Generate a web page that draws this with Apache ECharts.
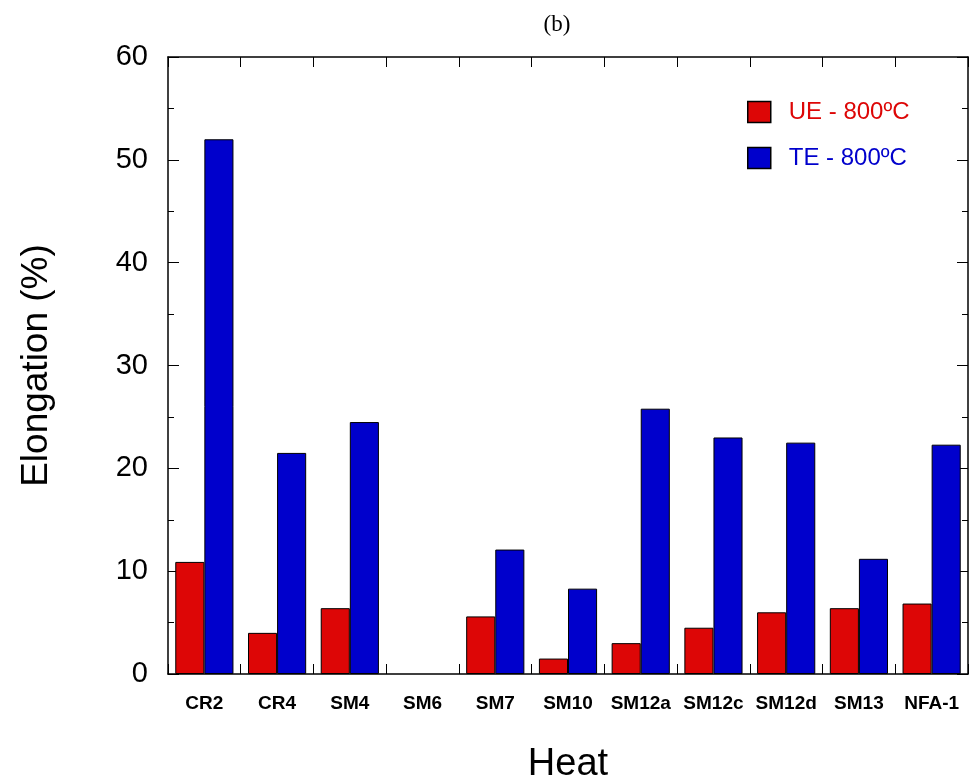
<!DOCTYPE html>
<html><head><meta charset="utf-8">
<script src="https://cdn.jsdelivr.net/npm/echarts@6/dist/echarts.min.js"></script>
<style>html,body{margin:0;padding:0;background:#fff;overflow:hidden}#c{width:969px;height:781px}</style>
</head><body><div id="c"></div>
<script>
const categories = ['CR2','CR4','SM4','SM6','SM7','SM10','SM12a','SM12c','SM12d','SM13','NFA-1'];
const ueValues = [10.9, 4.0, 6.4, null, 5.6, 1.5, 3.0, 4.5, 6.0, 6.4, 6.85];
const teValues = [52.0, 21.5, 24.5, null, 12.1, 8.3, 25.8, 23.0, 22.5, 11.2, 22.3];
const seriesNames = ['UE - 800ºC', 'TE - 800ºC'];
const yTicks = [0, 10, 20, 30, 40, 50, 60];

const chart = echarts.init(document.getElementById('c'), null, {renderer:'canvas'});
const font = 'Liberation Sans, Arial, sans-serif';
const axisLine = {show:true, onZero:false, lineStyle:{color:'#000', width:1.5}};
chart.setOption({
  animation:false,
  title:{text:'(b)', left:552, top:8, textAlign:'center',
    textStyle:{fontFamily:'Liberation Serif, Times New Roman, serif', fontWeight:'normal', fontSize:23, color:'#000'}},
  legend:{
    orient:'vertical', left:742, top:95, itemWidth:23, itemHeight:21, itemGap:22,
    icon:'rect',
    data:[
      {name:seriesNames[0], textStyle:{color:'#dd0606'}},
      {name:seriesNames[1], textStyle:{color:'#0000cc'}}
    ],
    itemStyle:{borderColor:'#000', borderWidth:1.5},
    textStyle:{fontFamily:font, fontSize:24, lineHeight:21, padding:[0,0,0,13]}
  },
  grid:{left:168, right:1, top:57, bottom:107, containLabel:false, outerBoundsMode:'none'},
  xAxis:[{
    type:'category', data:categories, position:'bottom',
    axisLine:axisLine,
    axisTick:{show:true, inside:true, length:10, lineStyle:{color:'#000'}},
    axisLabel:{fontFamily:font, fontWeight:'bold', fontSize:19, color:'#000', margin:20, interval:0},
    name:'Heat', nameLocation:'middle', nameGap:72,
    nameTextStyle:{fontFamily:font, fontSize:38, color:'#000'}
  },{
    type:'category', data:categories, position:'top',
    axisLine:axisLine,
    axisTick:{show:true, inside:true, length:10, lineStyle:{color:'#000'}},
    axisLabel:{show:false}
  }],
  yAxis:[{
    type:'value', min:0, max:60, interval:10, position:'left',
    axisLine:axisLine,
    axisTick:{show:true, inside:true, length:11, lineStyle:{color:'#000'}},
    minorTick:{show:true, splitNumber:2, length:6, lineStyle:{color:'#000'}},
    splitLine:{show:false},
    axisLabel:{fontFamily:font, fontSize:29, color:'#000', margin:20,
      formatter: v => yTicks.includes(v) ? String(v) : ''},
    name:'Elongation (%)', nameLocation:'middle', nameGap:113,
    nameTextStyle:{fontFamily:font, fontSize:37, color:'#000'}
  },{
    type:'value', min:0, max:60, interval:10, position:'right',
    axisLine:axisLine,
    axisTick:{show:true, inside:true, length:11, lineStyle:{color:'#000'}},
    minorTick:{show:true, splitNumber:2, length:6, lineStyle:{color:'#000'}},
    splitLine:{show:false},
    axisLabel:{show:false}
  }],
  series:[{
    name:seriesNames[0], type:'bar', data:ueValues, barGap:'0%', barCategoryGap:'20%',
    itemStyle:{color:'#dd0606', borderColor:'#000', borderWidth:1},
  },{
    name:seriesNames[1], type:'bar', data:teValues, barGap:'0%', barCategoryGap:'20%',
    itemStyle:{color:'#0000cc', borderColor:'#000', borderWidth:1},
  }],
  textStyle:{fontFamily:font}
});
</script></body></html>
